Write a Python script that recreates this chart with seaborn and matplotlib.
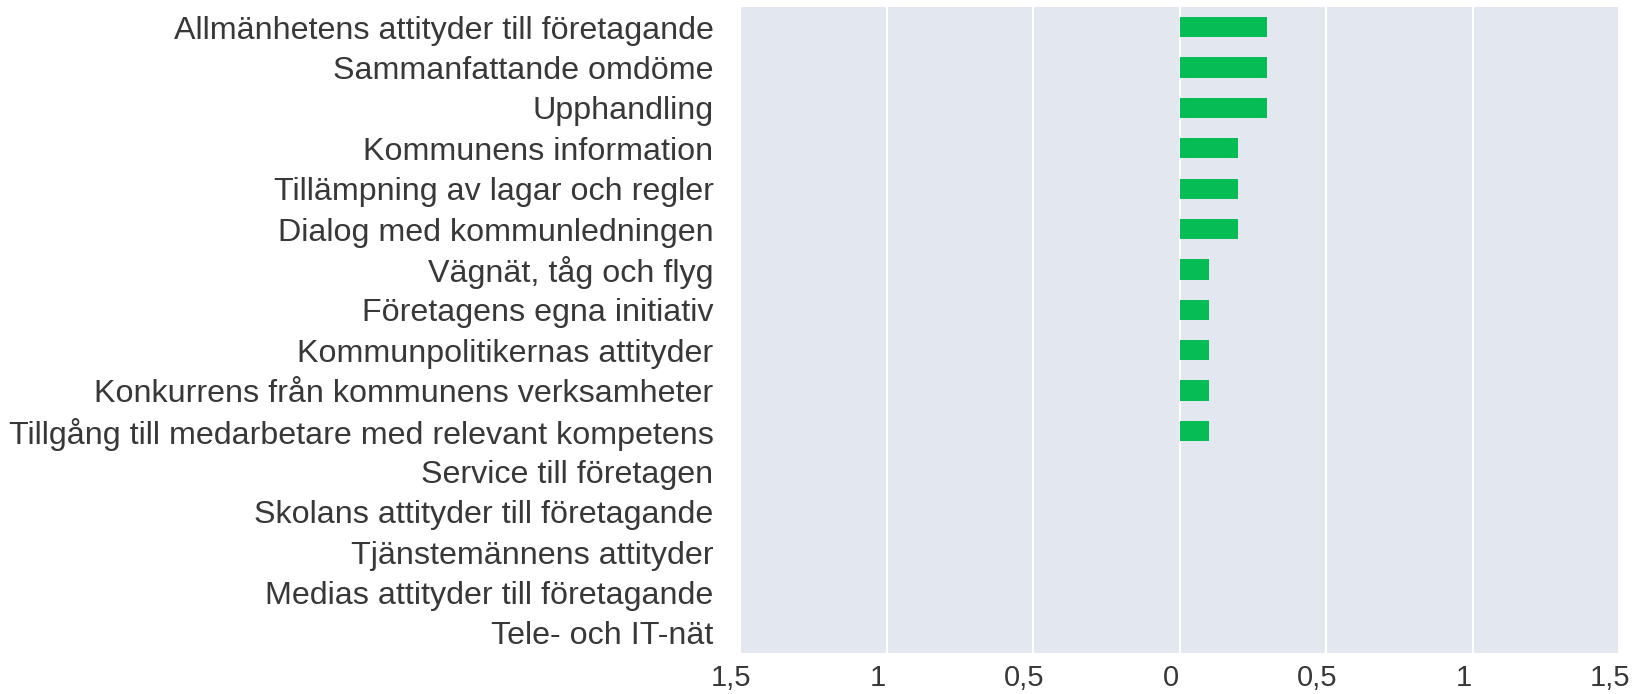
import pandas as pd
import seaborn as sns
import matplotlib.pyplot as plt
import matplotlib.transforms as mtransforms
from matplotlib.ticker import FuncFormatter, FixedLocator

# categories, top to bottom
categories = [
    "Allmänhetens attityder till företagande",
    "Sammanfattande omdöme",
    "Upphandling",
    "Kommunens information",
    "Tillämpning av lagar och regler",
    "Dialog med kommunledningen",
    "Vägnät, tåg och flyg",
    "Företagens egna initiativ",
    "Kommunpolitikernas attityder",
    "Konkurrens från kommunens verksamheter",
    "Tillgång till medarbetare med relevant kompetens",
    "Service till företagen",
    "Skolans attityder till företagande",
    "Tjänstemännens attityder",
    "Medias attityder till företagande",
    "Tele- och IT-nät",
]
values = [0.3, 0.3, 0.3, 0.2, 0.2, 0.2, 0.1, 0.1, 0.1, 0.1, 0.1, 0, 0, 0, 0, 0]
x_ticks = [-1.5, -1, -0.5, 0, 0.5, 1, 1.5]

df = pd.DataFrame({"kategori": categories, "varde": values})

sns.set_style("darkgrid", {"axes.facecolor": "#E3E7EF", "grid.color": "white"})
plt.rcParams['font.family'] = ['Liberation Sans', 'DejaVu Sans']

fig, ax = plt.subplots(figsize=(16.32, 6.94), dpi=100)
fig.subplots_adjust(left=740 / 1632, right=1619 / 1632, top=1 - 7 / 694, bottom=1 - 653 / 694)

sns.barplot(data=df, x="varde", y="kategori", orient="h", color="#05BC55",
            saturation=1, width=0.5, linewidth=0, ax=ax)

ax.set_xlim(-1.5, 1.5)
ax.xaxis.set_major_locator(FixedLocator(x_ticks))
ax.xaxis.set_major_formatter(FuncFormatter(lambda v, p: f"{abs(v):g}".replace(".", ",")))
ax.grid(True, axis="x", color="white", linewidth=1.5)
ax.grid(False, axis="y")
ax.set_xlabel("")
ax.set_ylabel("")
ax.tick_params(axis="both", length=0, colors="#383838")
ax.tick_params(axis="y", pad=19, labelsize=23.2)
ax.tick_params(axis="x", pad=8, labelsize=21)
for s in ax.spines.values():
    s.set_visible(False)

# tick labels sit a little left of their gridlines in the original
shift = mtransforms.ScaledTranslation(-9 / 100, 0, fig.dpi_scale_trans)
for lbl in ax.get_xticklabels():
    lbl.set_transform(lbl.get_transform() + shift)

fig.savefig("out.png", dpi=100)
